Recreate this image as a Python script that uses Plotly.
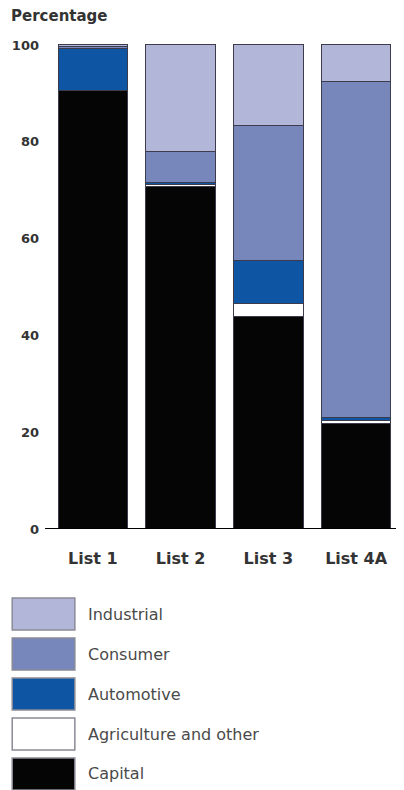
import plotly.graph_objects as go

categories = ["List 1", "List 2", "List 3", "List 4A"]
series_names = ["Capital", "Agriculture and other", "Automotive", "Consumer", "Industrial"]
capital = [90.5, 70.8, 43.9, 21.8]
agriculture = [0.0, 0.4, 2.7, 0.6]
automotive = [8.7, 0.3, 8.9, 0.7]
consumer = [0.5, 6.4, 27.8, 69.3]
industrial = [0.3, 22.1, 16.7, 7.6]
series_values = [capital, agriculture, automotive, consumer, industrial]
series_colors = ["#050505", "#FFFFFF", "#0E55A3", "#7786BB", "#B2B6D8"]
y_ticks = [0, 20, 40, 60, 80, 100]

OFF = 8  # page body margin
W, H = 404 - OFF, 790 - OFF
L, R, T, B = 47 - OFF, 4, 43 - OFF, 261
pw, ph = W - L - R, H - T - B

def px(x):
    return (x - OFF - L) / pw

def py(y):
    return (H - B - (y - OFF)) / ph

fig = go.Figure()
for name, vals, col in zip(series_names, series_values, series_colors):
    fig.add_trace(go.Bar(
        x=categories, y=vals, name=name,
        marker=dict(color=col, line=dict(color="#3c3c4c", width=1)),
        showlegend=False,
    ))

shapes = []
annotations = []
shapes.append(dict(type="line", xref="paper", yref="y", x0=px(43), x1=px(404), y0=0, y1=0,
                   line=dict(color="#000000", width=2)))

legend_order = list(range(len(series_names)))[::-1]
for i, idx in enumerate(legend_order):
    top = 598 + 40 * i
    bot = top + 32
    shapes.append(dict(type="rect", xref="paper", yref="paper",
                       x0=px(10), x1=px(73), y0=py(bot), y1=py(top),
                       fillcolor=series_colors[idx],
                       line=dict(color="#8a8a96", width=1.5)))
    annotations.append(dict(xref="paper", yref="paper", x=px(84), y=py((top + bot) / 2),
                            text=series_names[idx], showarrow=False, xanchor="left",
                            yanchor="middle",
                            font=dict(family="DejaVu Sans", size=16, color="#4a4a4a")))

annotations.append(dict(xref="paper", yref="paper", x=px(7), y=py(16), text="<b>Percentage</b>",
                        showarrow=False, xanchor="left", yanchor="middle",
                        font=dict(family="DejaVu Sans", size=15, color="#333333")))

fig.update_layout(
    barmode="stack",
    bargap=0.21,
    width=W, height=H,
    margin=dict(l=L, r=R, t=T, b=B),
    plot_bgcolor="white", paper_bgcolor="white",
    shapes=shapes, annotations=annotations,
    xaxis=dict(showgrid=False, showline=False, zeroline=False, ticks="",
               tickvals=categories, ticktext=["<b>%s</b>" % c for c in categories],
               tickfont=dict(family="DejaVu Sans", size=16, color="#333333"),
               ticklabelstandoff=18),
    yaxis=dict(range=[0, 100.4], tickvals=y_ticks,
               ticktext=["<b>%d</b>" % v for v in y_ticks],
               showgrid=False, showline=False,
               zeroline=False, ticks="", ticklabelstandoff=9,
               tickfont=dict(family="DejaVu Sans", size=13, color="#333333")),
)

fig.write_html("out.html")
